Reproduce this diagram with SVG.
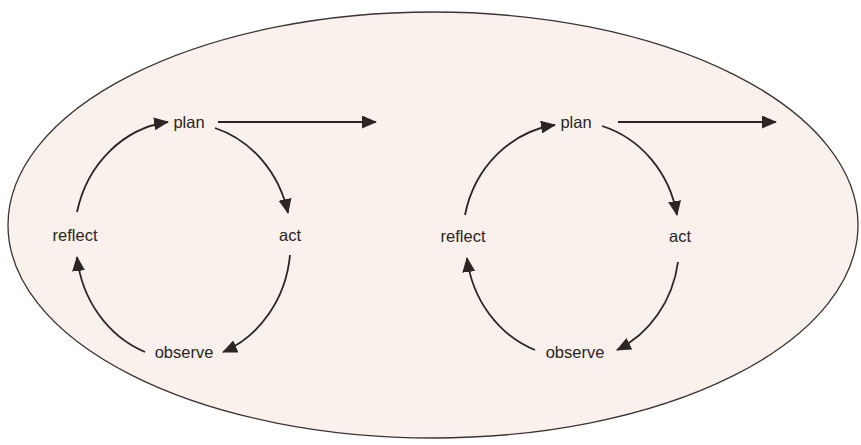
<svg xmlns="http://www.w3.org/2000/svg" width="861" height="445" viewBox="0 0 861 445">
  <style>
    .label { font-family: "Liberation Sans", Arial, sans-serif; font-size: 16.5px; fill: #2a2422; text-anchor: middle; }
    .conn { fill: none; stroke: #2b2523; stroke-width: 1.8; marker-end: url(#head); }
  </style>
  <defs>
    <marker id="head" markerUnits="userSpaceOnUse" viewBox="0 0 15 13" markerWidth="15" markerHeight="13" refX="14" refY="6.5" orient="auto">
      <path d="M0,0 L15,6.5 L0,13 Z" fill="#2b2523"/>
    </marker>
  </defs>

  <!-- Background field -->
  <rect x="0" y="0" width="861" height="445" fill="#ffffff"/>
  <ellipse id="cycle-field" cx="433" cy="225" rx="425" ry="213" fill="#fbf1ec" stroke="#3a3432" stroke-width="1.3"/>

  <!-- First cycle -->
  <g id="plan-1"><text class="label" x="189" y="128">plan</text></g>
  <g id="act-1"><text class="label" x="290" y="241">act</text></g>
  <g id="observe-1"><text class="label" x="184" y="358">observe</text></g>
  <g id="reflect-1"><text class="label" x="75" y="241">reflect</text></g>

  <!-- Second cycle -->
  <g id="plan-2"><text class="label" x="576" y="128">plan</text></g>
  <g id="act-2"><text class="label" x="680" y="242">act</text></g>
  <g id="observe-2"><text class="label" x="575" y="358">observe</text></g>
  <g id="reflect-2"><text class="label" x="463" y="242">reflect</text></g>

  <!-- Connectors -->
  <g id="connectors">
    <path class="conn" d="M77,212 A107 117 0 0 1 168,122"/>
    <path class="conn" d="M215,128 A107 117 0 0 1 288,213"/>
    <path class="conn" d="M290,255 A107 117 0 0 1 223,352"/>
    <path class="conn" d="M145,352 A107 117 0 0 1 77,257"/>
    <path class="conn" d="M218,122 L376,122"/>

    <path class="conn" d="M465,215 A107 115 0 0 1 555,125"/>
    <path class="conn" d="M602,126 A107 115 0 0 1 677,215"/>
    <path class="conn" d="M678,262 A107 115 0 0 1 617,350"/>
    <path class="conn" d="M535,350 A107 115 0 0 1 467,258"/>
    <path class="conn" d="M618,122 L776,122"/>
  </g>
</svg>
